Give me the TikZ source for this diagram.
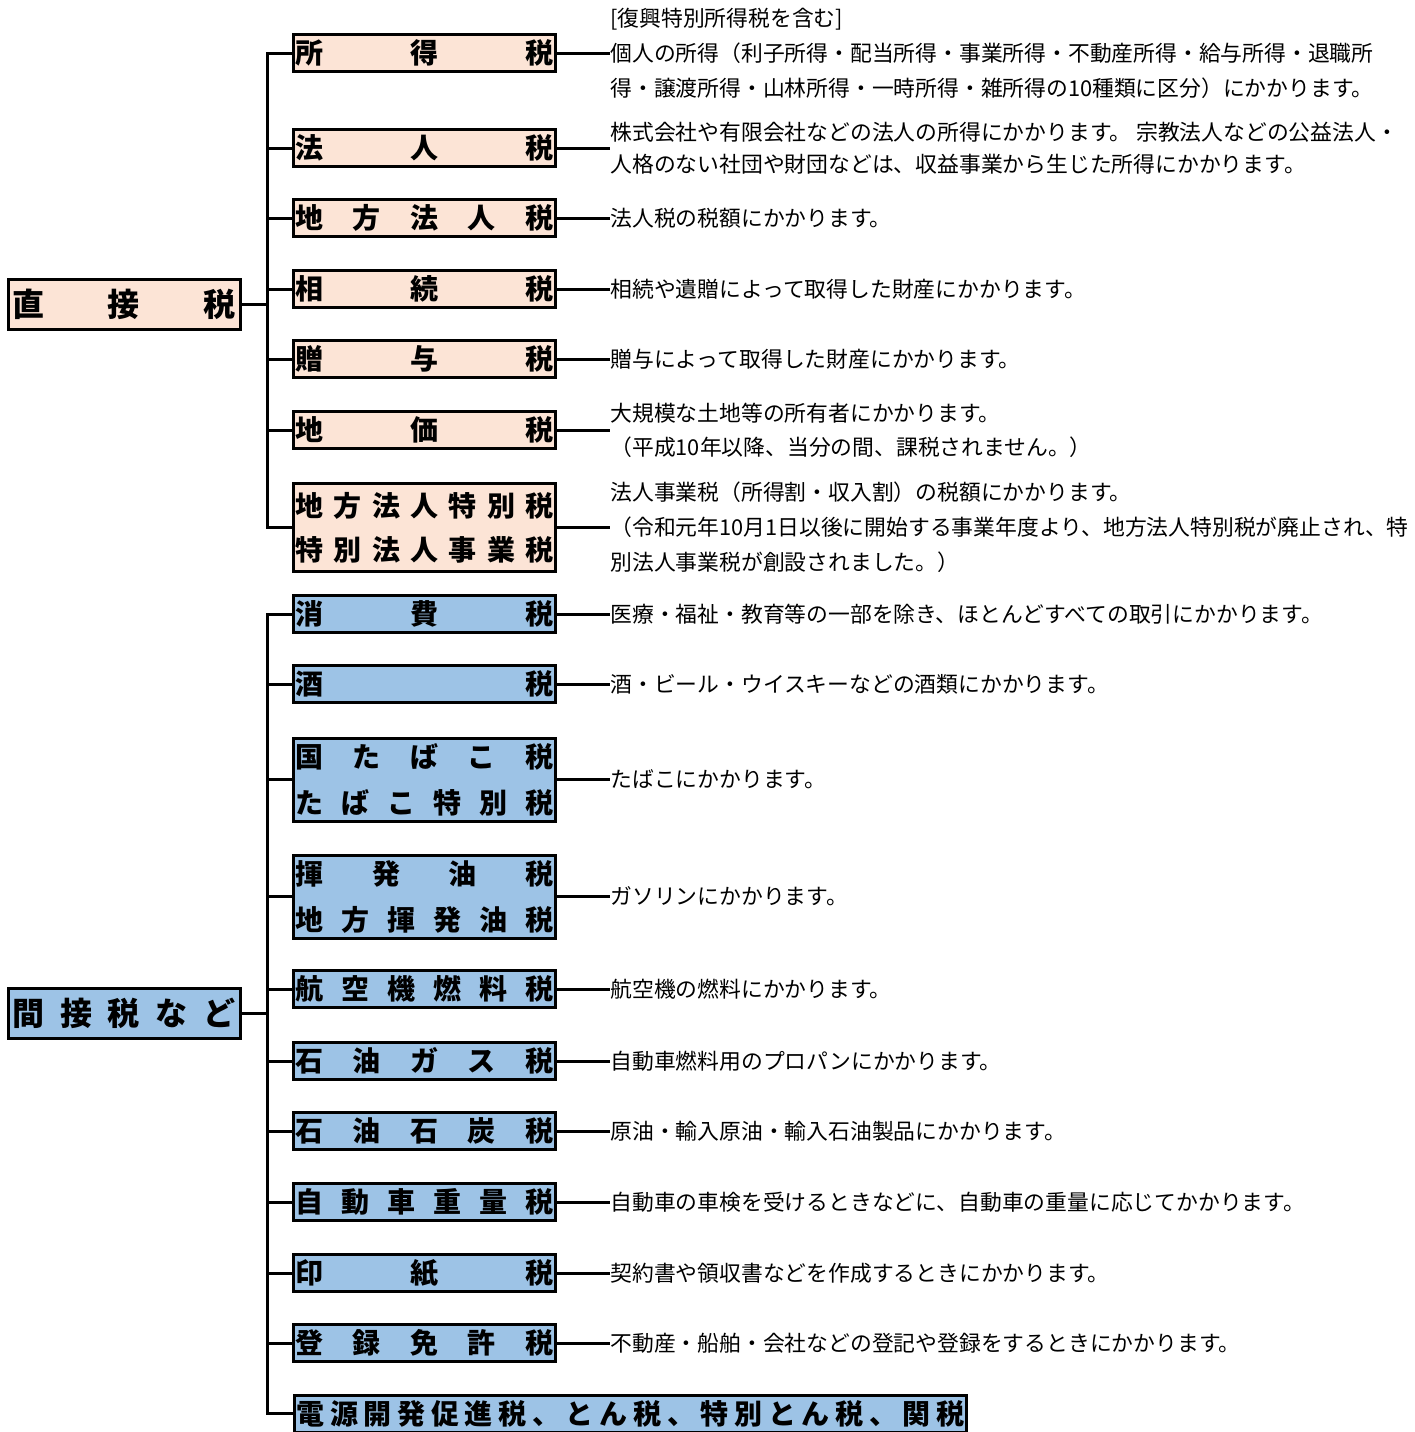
\documentclass[tikz,border=0pt]{standalone}
\usepackage{fontspec}
\setmainfont{Noto Sans CJK JP}
\definecolor{chokucol}{HTML}{FCE4D6}
\definecolor{kancol}{HTML}{9DC3E6}
% spread the characters of a box label over a fixed width
\newcommand{\kin}[2][129pt]{\hbox to #1{#2}}

\begin{document}
\begin{tikzpicture}[x=0.5pt, y=-0.5pt,
            every node/.style={inner sep=0pt},
            zeibox/.style={draw, line width=1.5pt, minimum width=130pt, minimum height=18.5pt,
                inner xsep=1pt, align=center, font=\fontsize{14}{23}\selectfont\bfseries},
            choku/.style={zeibox, fill=chokucol},
            kan/.style={zeibox, fill=kancol},
            root/.style={minimum width=116pt, minimum height=25pt, font=\fontsize{16}{20}\selectfont\bfseries},
            setsumei/.style={anchor=west, align=left, font=\fontsize{10.9}{17.5}\selectfont},
            sen/.style={line width=1.5pt}]
        \useasboundingbox (0,0) rectangle (1415,1432);

        % direct taxes
        \node [choku, root] (chokusetsu) at (124,304) {\kin[112pt]{直\hfill 接\hfill 税}};
        \node [choku] (c1) at (424.5,53)  {\kin{所\hfill 得\hfill 税}};
        \node [choku] (c2) at (424.5,148) {\kin{法\hfill 人\hfill 税}};
        \node [choku] (c3) at (424.5,218) {\kin{地\hfill 方\hfill 法\hfill 人\hfill 税}};
        \node [choku] (c4) at (424.5,289) {\kin{相\hfill 続\hfill 税}};
        \node [choku] (c5) at (424.5,359) {\kin{贈\hfill 与\hfill 税}};
        \node [choku] (c6) at (424.5,430) {\kin{地\hfill 価\hfill 税}};
        \node [choku, minimum height=44pt, font=\fontsize{14}{22}\selectfont\bfseries] (c7) at (424.5,527.5)
            {\kin{地\hfill 方\hfill 法\hfill 人\hfill 特\hfill 別\hfill 税}\\\kin{特\hfill 別\hfill 法\hfill 人\hfill 事\hfill 業\hfill 税}};

        \node [setsumei] (cd1) at (610,53) {[復興特別所得税を含む]\\個人の所得（利子所得・配当所得・事業所得・不動産所得・給与所得・退職所\\得・譲渡所得・山林所得・一時所得・雑所得の10種類に区分）にかかります。};
        \node [setsumei, font=\fontsize{10.9}{16}\selectfont] (cd2) at (610,148) {株式会社や有限会社などの法人の所得にかかります。 宗教法人などの公益法人・\\人格のない社団や財団などは、収益事業から生じた所得にかかります。};
        \node [setsumei] (cd3) at (610,218) {法人税の税額にかかります。};
        \node [setsumei] (cd4) at (610,289) {相続や遺贈によって取得した財産にかかります。};
        \node [setsumei] (cd5) at (610,359) {贈与によって取得した財産にかかります。};
        \node [setsumei, font=\fontsize{10.9}{17}\selectfont] (cd6) at (610,430) {大規模な土地等の所有者にかかります。\\（平成10年以降、当分の間、課税されません。）};
        \node [setsumei] (cd7) at (610,527.5) {法人事業税（所得割・収入割）の税額にかかります。\\（令和元年10月1日以後に開始する事業年度より、地方法人特別税が廃止され、特\\別法人事業税が創設されました。）};

        % indirect taxes
        \node [kan, root] (kansetsu) at (124,1013.5) {\kin[112pt]{間\hfill 接\hfill 税\hfill な\hfill ど}};
        \node [kan] (k1) at (424.5,614)  {\kin{消\hfill 費\hfill 税}};
        \node [kan] (k2) at (424.5,684)  {\kin{酒\hfill 税}};
        \node [kan, minimum height=41.5pt] (k3) at (424.5,779.5)
            {\kin{国\hfill た\hfill ば\hfill こ\hfill 税}\\\kin{た\hfill ば\hfill こ\hfill 特\hfill 別\hfill 税}};
        \node [kan, minimum height=41.5pt] (k4) at (424.5,896.5)
            {\kin{揮\hfill 発\hfill 油\hfill 税}\\\kin{地\hfill 方\hfill 揮\hfill 発\hfill 油\hfill 税}};
        \node [kan] (k5) at (424.5,989)  {\kin{航\hfill 空\hfill 機\hfill 燃\hfill 料\hfill 税}};
        \node [kan] (k6) at (424.5,1061) {\kin{石\hfill 油\hfill ガ\hfill ス\hfill 税}};
        \node [kan] (k7) at (424.5,1131) {\kin{石\hfill 油\hfill 石\hfill 炭\hfill 税}};
        \node [kan] (k8) at (424.5,1202) {\kin{自\hfill 動\hfill 車\hfill 重\hfill 量\hfill 税}};
        \node [kan] (k9) at (424.5,1273) {\kin{印\hfill 紙\hfill 税}};
        \node [kan] (k10) at (424.5,1343) {\kin{登\hfill 録\hfill 免\hfill 許\hfill 税}};
        \node [kan, minimum width=336pt] (k11) at (630.5,1413.5)
            {\kin[334pt]{電\hfill 源\hfill 開\hfill 発\hfill 促\hfill 進\hfill 税\hfill 、\hfill と\hfill ん\hfill 税\hfill 、\hfill 特\hfill 別\hfill と\hfill ん\hfill 税\hfill 、\hfill 関\hfill 税}};

        \node [setsumei] (kd1) at (610,614)  {医療・福祉・教育等の一部を除き、ほとんどすべての取引にかかります。};
        \node [setsumei] (kd2) at (610,684)  {酒・ビール・ウイスキーなどの酒類にかかります。};
        \node [setsumei] (kd3) at (610,779.5) {たばこにかかります。};
        \node [setsumei] (kd4) at (610,896.5) {ガソリンにかかります。};
        \node [setsumei] (kd5) at (610,989)  {航空機の燃料にかかります。};
        \node [setsumei] (kd6) at (610,1061) {自動車燃料用のプロパンにかかります。};
        \node [setsumei] (kd7) at (610,1131) {原油・輸入原油・輸入石油製品にかかります。};
        \node [setsumei] (kd8) at (610,1202) {自動車の車検を受けるときなどに、自動車の重量に応じてかかります。};
        \node [setsumei] (kd9) at (610,1273) {契約書や領収書などを作成するときにかかります。};
        \node [setsumei] (kd10) at (610,1343) {不動産・船舶・会社などの登記や登録をするときにかかります。};

        % connectors
        \draw [sen] (chokusetsu.east) -- ++(27,0);
        \draw [sen] (c1.west) -- ++(-25,0) |- (c7.west);
        \foreach \i in {2,...,6}
            \draw [sen] (c\i.west) -- ++(-25,0);
        \foreach \i in {1,...,7}
            \draw [sen] (c\i.east) -- (cd\i.west);

        \draw [sen] (kansetsu.east) -- ++(27,0);
        \draw [sen] (k1.west) -- ++(-25,0) |- (k11.west);
        \foreach \i in {2,...,10}
            \draw [sen] (k\i.west) -- ++(-25,0);
        \foreach \i in {1,...,10}
            \draw [sen] (k\i.east) -- (kd\i.west);
    \end{tikzpicture}
\end{document}
